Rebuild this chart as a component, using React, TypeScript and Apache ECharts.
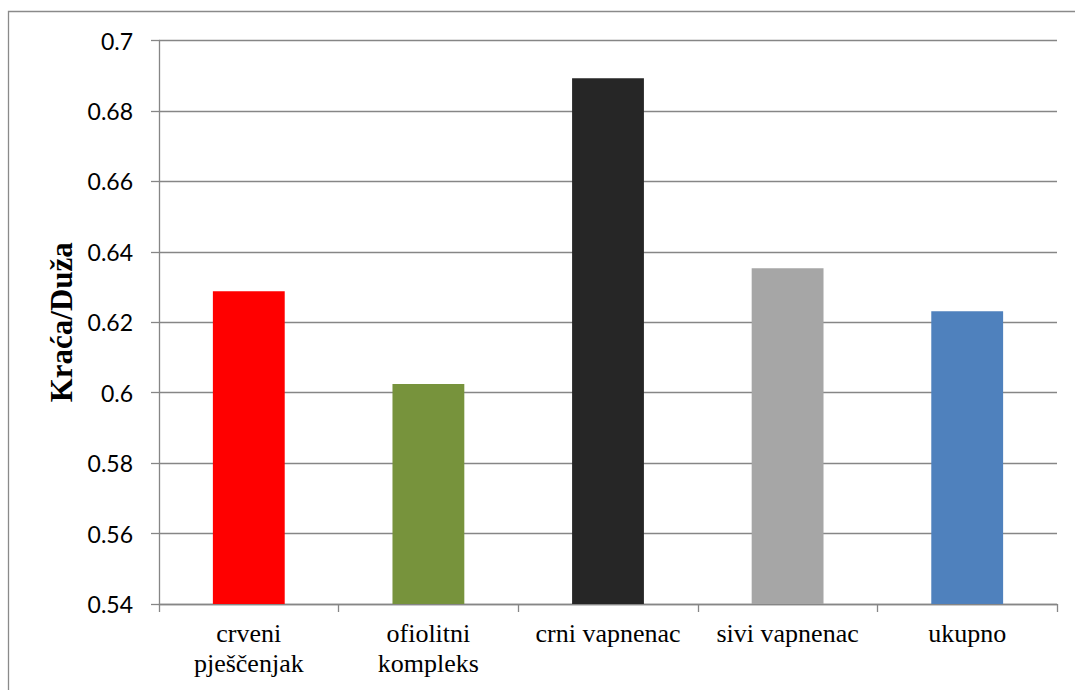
import React, { useEffect, useRef } from "react";
import * as echarts from "echarts";

const categories = ["crveni\npješčenjak", "ofiolitni\nkompleks", "crni vapnenac", "sivi vapnenac", "ukupno"];
const values = [0.6288, 0.6025, 0.6893, 0.6353, 0.6231];
const barColors = ["#FF0000", "#77933C", "#262626", "#A6A6A6", "#4F81BD"];
const yAxisTitle = "Kraća/Duža";

export default function App() {
  const ref = useRef<HTMLDivElement>(null);
  useEffect(() => {
    document.body.style.margin = "0";
    const chart = echarts.init(ref.current!, null, { renderer: "svg" });
    const axisGray = "#868686";
    chart.setOption({
      animation: false,
      backgroundColor: "#ffffff",
      grid: { left: 159, right: 18, top: 40.5, bottom: 86, containLabel: false },
      graphic: [
        {
          type: "rect",
          shape: { x: 8.5, y: 11.5, width: 1100, height: 700 },
          style: { fill: "none", stroke: "#8a8a8a", lineWidth: 1.3 },
          silent: true,
        },
      ],
      xAxis: {
        type: "category",
        data: categories,
        boundaryGap: true,
        axisLine: { show: true, lineStyle: { color: axisGray, width: 1.3 } },
        axisTick: { show: true, length: 8, lineStyle: { color: axisGray, width: 1.3 } },
        axisLabel: {
          color: "#000",
          fontFamily: "Liberation Serif",
          fontSize: 26,
          lineHeight: 30,
          margin: 14,
          interval: 0,
        },
      },
      yAxis: {
        type: "value",
        min: 0.54,
        max: 0.7,
        interval: 0.02,
        name: yAxisTitle,
        nameLocation: "middle",
        nameGap: 82,
        nameRotate: 90,
        nameTextStyle: {
          fontFamily: "Liberation Serif",
          fontWeight: "bold",
          fontSize: 31,
          color: "#000",
        },
        axisLine: { show: true, lineStyle: { color: axisGray, width: 1.3 } },
        axisTick: { show: true, length: 8, lineStyle: { color: axisGray, width: 1.3 } },
        splitLine: { show: true, lineStyle: { color: axisGray, width: 1.3 } },
        axisLabel: {
          color: "#000",
          fontFamily: "Lato",
          fontSize: 23,
          margin: 26,
          formatter: (v: number) => String(+v.toFixed(2)),
        },
      },
      series: [
        {
          type: "bar",
          data: values.map((v, i) => ({ value: v, itemStyle: { color: barColors[i] } })),
          barWidth: "40%",
        },
      ],
    });
    return () => chart.dispose();
  }, []);
  return <div ref={ref} style={{ width: 1075, height: 690 }} />;
}
